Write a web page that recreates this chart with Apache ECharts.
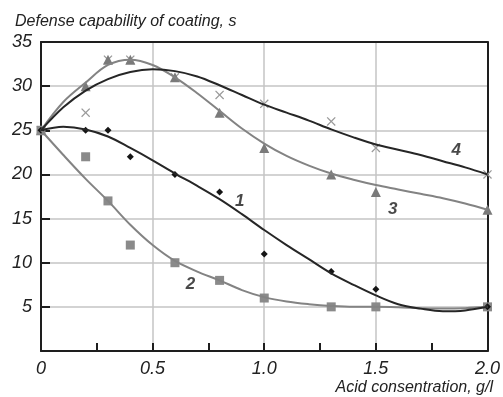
<!DOCTYPE html>
<html>
<head>
<meta charset="utf-8">
<script src="https://cdn.jsdelivr.net/npm/echarts@6/dist/echarts.min.js"></script>
<style>
  html, body { margin: 0; padding: 0; background: #fff; }
  #chart { width: 503px; height: 397px; }
</style>
</head>
<body>
<div id="chart"></div>
<script>
// measured points (acid concentration, g/l -> defense time, s)
const xs1 = [0, 0.2, 0.3, 0.4, 0.6, 0.8, 1.0, 1.3, 1.5, 2.0];
const ys1 = [25, 25, 25, 22, 20, 18, 11, 9, 7, 5];
const xs2 = [0, 0.2, 0.3, 0.4, 0.6, 0.8, 1.0, 1.3, 1.5, 2.0];
const ys2 = [25, 22, 17, 12, 10, 8, 6, 5, 5, 5];
const xs3 = [0, 0.2, 0.3, 0.4, 0.6, 0.8, 1.0, 1.3, 1.5, 2.0];
const ys3 = [25, 30, 33, 33, 31, 27, 23, 20, 18, 16];
const xs4 = [0, 0.2, 0.3, 0.4, 0.6, 0.8, 1.0, 1.3, 1.5, 2.0];
const ys4 = [25, 27, 33, 33, 31, 29, 28, 26, 23, 20];

// trend curves
const curveX = [0, 0.1, 0.2, 0.3, 0.4, 0.5, 0.6, 0.7, 0.8, 0.9, 1.0, 1.1, 1.2, 1.3, 1.4, 1.5, 1.6, 1.7, 1.8, 1.9, 2.0];
const curve1 = [25, 25.4, 25.1, 24.3, 23.0, 21.6, 20.1, 18.7, 17.2, 15.5, 13.7, 12.0, 10.4, 8.8, 7.5, 6.3, 5.3, 4.8, 4.5, 4.6, 5.0];
const curve2 = [25, 22.2, 19.5, 17.0, 14.3, 12.0, 10.2, 9.0, 8.0, 6.9, 6.1, 5.6, 5.3, 5.1, 5.0, 5.0, 4.95, 4.85, 4.8, 4.85, 5.0];
const curve3 = [25, 28.2, 30.4, 32.4, 33.0, 32.4, 31.0, 29.2, 27.2, 25.2, 23.5, 22.1, 21.0, 20.1, 19.4, 18.8, 18.3, 17.8, 17.3, 16.7, 16.0];
const curve4 = [25, 27.6, 29.5, 30.8, 31.6, 31.9, 31.7, 31.1, 30.1, 29.0, 27.9, 27.0, 26.1, 25.1, 24.2, 23.4, 22.8, 22.2, 21.5, 20.8, 20.0];

// curve number labels [x, y, text]
const curveLabels = [[0.89, 16.9, '1'], [0.67, 7.6, '2'], [1.575, 16.1, '3'], [1.86, 22.7, '4']];

const yTitle = 'Defense capability of coating, s';
const xTitle = 'Acid consentration, g/l';

const DARK = '#262626';
const GRAY = '#838383';
const FRAME = '#1e1e1e';
const FONT = '"Liberation Sans", Arial, sans-serif';

const zip = (a, b) => a.map((v, i) => [v, b[i]]);
const crossPath = 'path://M0,1 L1,0 L5,4 L9,0 L10,1 L6,5 L10,9 L9,10 L5,6 L1,10 L0,9 L4,5 Z';

const chart = echarts.init(document.getElementById('chart'), null, { renderer: 'canvas' });

const curveSeries = (data, color) => ({
  type: 'line',
  data: zip(curveX, data),
  smooth: 0.35,
  showSymbol: false,
  symbol: 'none',
  lineStyle: { color, width: 2 },
  z: 3,
  silent: true
});

const markerSeries = (xs, ys, symbol, size, color) => ({
  type: 'scatter',
  data: zip(xs, ys),
  symbol,
  symbolSize: size,
  itemStyle: { color, opacity: 1 },
  z: 2,
  silent: true
});

// top / right frame lines
const frameAxis = (position, min, max) => ({
  type: 'value', position, min, max,
  axisLine: { show: true, onZero: false, lineStyle: { color: FRAME, width: 2 } },
  axisTick: { show: false },
  axisLabel: { show: false },
  splitLine: { show: false }
});

chart.setOption({
  animation: false,
  backgroundColor: '#fff',
  title: [
    {
      text: yTitle, left: 10, top: 9,
      textStyle: { fontFamily: FONT, fontStyle: 'italic', fontWeight: 'normal', fontSize: 16, color: '#222' }
    },
    {
      text: xTitle, right: 5, top: 375,
      textStyle: { fontFamily: FONT, fontStyle: 'italic', fontWeight: 'normal', fontSize: 16, color: '#222' }
    }
  ],
  grid: { left: 41, right: 15, top: 42, bottom: 46 },
  xAxis: [
    {
      type: 'value', position: 'bottom', min: 0, max: 2, interval: 0.5,
      axisLine: { show: true, onZero: false, lineStyle: { color: FRAME, width: 2 } },
      axisTick: { show: true, inside: true, length: 8, lineStyle: { color: FRAME, width: 2 } },
      minorTick: { show: true, splitNumber: 2, length: 8, lineStyle: { color: FRAME, width: 2 } },
      splitLine: { show: true, showMinLine: false, showMaxLine: false, lineStyle: { color: '#c4c4c4', width: 1.5 } },
      axisLabel: {
        margin: 9, fontFamily: FONT, fontStyle: 'italic', fontSize: 18, color: '#222',
        formatter: v => (v === 0 ? '0' : v.toFixed(1))
      }
    },
    frameAxis('top', 0, 2)
  ],
  yAxis: [
    {
      type: 'value', position: 'left', min: 0, max: 35, interval: 5,
      axisLine: { show: true, onZero: false, lineStyle: { color: FRAME, width: 2 } },
      axisTick: { show: true, inside: true, length: 9, lineStyle: { color: FRAME, width: 2 } },
      splitLine: { show: true, showMinLine: false, showMaxLine: false, lineStyle: { color: '#c4c4c4', width: 1.5 } },
      axisLabel: {
        margin: 9, fontFamily: FONT, fontStyle: 'italic', fontSize: 18, color: '#222',
        formatter: v => (v === 0 ? '' : String(v))
      }
    },
    frameAxis('right', 0, 35)
  ],
  series: [
    markerSeries(xs4, ys4, crossPath, 9, '#9a9a9a'),
    markerSeries(xs3, ys3, 'triangle', 10, '#7a7a7a'),
    markerSeries(xs2, ys2, 'rect', 9, '#8a8a8a'),
    markerSeries(xs1, ys1, 'diamond', 7, '#151515'),
    curveSeries(curve2, GRAY),
    curveSeries(curve3, GRAY),
    curveSeries(curve1, DARK),
    curveSeries(curve4, DARK),
    {
      type: 'scatter',
      data: curveLabels.map(d => ({ value: [d[0], d[1]], name: d[2] })),
      symbolSize: 0,
      silent: true,
      z: 5,
      label: {
        show: true, position: 'inside', formatter: p => p.name,
        fontFamily: FONT, fontStyle: 'italic', fontWeight: 'bold', fontSize: 17, color: '#1a1a1a'
      }
    }
  ]
});
</script>
</body>
</html>
